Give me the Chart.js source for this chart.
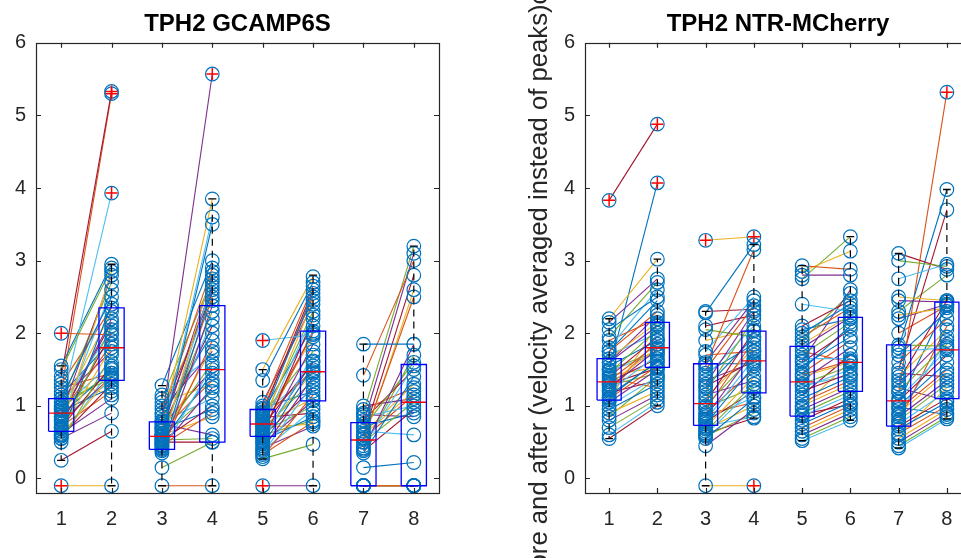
<!DOCTYPE html>
<html>
<head>
<meta charset="utf-8">
<script src="https://cdn.jsdelivr.net/npm/chart.js@4.4.1/dist/chart.umd.min.js"></script>
<style>
  html, body { margin: 0; padding: 0; background: #fff; overflow: hidden; }
  #wrap { position: relative; width: 961px; height: 558px; overflow: hidden; }
  #left { position: absolute; left: 0; top: 0; width: 480px; height: 558px; }
  #right { position: absolute; left: 505px; top: 0; width: 500px; height: 558px; }
</style>
</head>
<body>
<div id="wrap">
  <canvas id="left" width="480" height="558"></canvas>
  <canvas id="right" width="500" height="558"></canvas>
</div>
<script>
const xTicks = [1, 2, 3, 4, 5, 6, 7, 8];
const yTicks = [0, 1, 2, 3, 4, 5, 6];
const matlabColors = ["#0072BD", "#D95319", "#EDB120", "#7E2F8E", "#77AC30", "#4DBEEE", "#A2142F"];

// ---- TPH2 GCAMP6S, paired values (before at odd x, after at even x)
const g12Before = [1.1, 2.0, -0.1, 0.55, 1.5, 1.0, 1.4, 1.55, 1.2, 0.7, 0.9, 1.05, 0.8, 0.25, 0.6, 1.3, 0.95, 0.85, 0.65, 1.0, 0.75, 1.15, 0.9, 0.68, 1.1, 0.5, 0.95, 0.7, 0.88, 1.25, 0.6, 0.78, 1.05, 0.82, 0.58, 0.93, 0.72, 1.35, 0.62, 0.98, 0.55, 0.85];
const g12After = [2.5, 1.98, -0.1, 0.9, 2.9, 3.93, 5.33, 2.95, 5.3, 2.85, 2.8, 2.7, 2.6, 0.65, 2.4, 2.35, 2.3, 2.2, 2.1, 2.05, 2.0, 1.9, 1.85, 1.8, 1.75, 1.7, 1.6, 1.55, 1.5, 1.45, 1.42, 1.4, 1.38, 1.35, 1.3, 1.25, 1.2, 1.15, 1.1, 1.45, 1.52, 2.15];
const g34Before = [0.55, -0.1, 0.7, 0.8, 0.15, 0.6, 0.5, 1.28, 0.9, 0.45, 0.65, 1.1, 0.5, 0.75, 0.4, 0.58, 1.0, 0.35, 0.62, 0.48, 0.7, 0.85, 0.42, 0.55, 0.95, 0.6, 0.38, 0.72, 0.5, 0.66, 1.05, 0.44, 0.58, 0.78, 0.52, 0.68, 0.46, 0.6, 0.75, 0.53, 1.15, 0.9];
const g34After = [3.5, -0.1, 3.85, 5.57, 0.5, 3.6, 0.5, 3.0, 2.9, 2.85, 2.8, 2.75, 2.7, 2.65, 2.6, 2.5, 2.45, 2.38, 2.3, 2.2, 2.1, 2.0, 1.9, 1.8, 1.75, 1.6, 1.55, 1.5, 1.45, 1.35, 1.3, 1.25, 1.2, 1.1, 1.0, 0.95, 0.9, 0.85, 0.6, 0.55, 1.7, 2.55];
const g56Before = [1.35, 1.0, 1.5, -0.1, 0.27, 1.9, 0.9, 0.85, 0.95, 0.75, 1.05, 0.8, 0.7, 0.6, 0.92, 0.65, 0.78, 0.55, 0.88, 0.5, 0.72, 0.45, 0.82, 0.62, 0.4, 0.68, 0.35, 0.58, 0.97, 0.3, 0.74, 0.48, 0.64, 0.38, 0.84, 0.52, 0.33, 0.7, 0.42, 0.6, 0.9, 0.76, 0.56];
const g56After = [2.7, 2.65, 2.78, -0.1, 0.47, 1.98, 2.6, 2.55, 2.5, 2.45, 2.4, 2.3, 2.25, 2.2, 2.1, 2.03, 1.95, 1.85, 1.75, 1.7, 1.6, 1.55, 1.5, 1.47, 1.4, 1.35, 1.3, 1.25, 1.2, 1.15, 1.1, 1.07, 1.0, 0.95, 0.9, 0.85, 0.78, 0.75, 0.72, 0.8, 1.45, 2.0, 1.62];
const g78Before = [-0.1, -0.1, -0.1, -0.1, -0.1, -0.1, 1.85, 1.42, -0.1, 0.75, 0.9, 0.65, 0.6, 0.15, 0.55, 0.5, 0.4, 0.7, 0.45, 0.8, 0.35, 0.95, 0.6, 1.0, 0.5, 0.85, 0.38, 0.72, 0.55, 0.62, 0.88, 0.42];
const g78After = [-0.1, -0.1, -0.1, -0.1, -0.1, -0.1, 1.85, 3.0, -0.1, 3.1, 3.2, 0.6, 2.8, 0.22, 2.5, 2.6, 1.85, 1.6, 1.55, 1.5, 1.4, 1.25, 1.2, 1.1, 1.05, 1.0, 0.95, 0.9, 1.15, 1.3, 0.85, 1.7];

// box statistics
const gQ1 = [0.65, 1.35, 0.40, 0.50, 0.58, 1.07, -0.10, -0.10];
const gMedian = [0.90, 1.80, 0.58, 1.50, 0.75, 1.47, 0.53, 1.05];
const gQ3 = [1.10, 2.35, 0.78, 2.38, 0.95, 2.03, 0.77, 1.57];
const gWhiskerLow = [0.25, -0.10, -0.10, -0.10, 0.27, -0.10, -0.10, -0.10];
const gWhiskerHigh = [1.55, 2.95, 1.28, 3.85, 1.50, 2.80, 1.85, 3.20];
const gOutlierX = [1, 1, 2, 2, 2, 4, 5, 5];
const gOutlierY = [2.0, -0.1, 5.33, 5.30, 3.93, 5.57, 1.9, -0.1];

// ---- TPH2 NTR-MCherry
const n12Before = [2.05, 1.75, 2.2, 2.15, 1.95, 1.8, 3.83, 1.5, 1.9, 1.65, 1.6, 1.45, 1.7, 1.4, 1.55, 1.35, 1.3, 1.25, 1.5, 1.2, 1.33, 1.15, 1.1, 1.42, 1.05, 1.28, 1.0, 1.18, 0.95, 1.38, 0.9, 0.8, 0.7, 0.6, 0.55, 1.12, 1.22, 1.08, 1.6, 0.85, 1.48, 1.3, 1.75];
const n12After = [2.5, 2.3, 3.02, 2.75, 2.7, 2.6, 4.88, 4.07, 2.2, 2.15, 2.1, 2.05, 2.0, 1.95, 1.9, 1.85, 1.8, 1.78, 1.75, 1.7, 1.65, 1.6, 1.55, 1.53, 1.5, 1.45, 1.4, 1.35, 1.3, 1.25, 1.2, 1.15, 1.1, 1.05, 1.0, 1.62, 1.9, 2.12, 2.25, 1.4, 1.72, 1.52, 2.45];
const n34Before = [1.55, -0.1, 1.6, 2.05, 1.75, 2.3, 2.28, 1.5, 3.28, 1.3, 1.2, 1.4, 1.05, 1.25, 0.95, 1.1, 0.85, 1.0, 0.8, 1.27, 0.75, 0.9, 0.7, 1.15, 0.65, 0.6, 0.78, 0.55, 0.88, 0.68, 0.45, 0.58, 0.72, 0.62, 1.58, 1.7, 1.9, 1.35, 0.98, 0.82, 2.1, 1.45];
const n34After = [3.15, -0.1, 2.45, 1.95, 2.5, 2.33, 3.22, 2.38, 3.33, 2.3, 2.2, 2.1, 2.03, 1.95, 1.9, 1.8, 1.75, 1.7, 1.65, 1.62, 1.55, 1.5, 1.4, 1.35, 1.3, 1.25, 1.2, 1.1, 1.05, 1.0, 0.95, 0.9, 0.85, 0.83, 1.58, 1.75, 2.05, 1.6, 1.25, 1.12, 2.25, 1.85];
const n56Before = [2.93, 2.85, 2.8, 2.75, 2.4, 2.1, 2.0, 1.95, 1.85, 1.8, 1.7, 1.65, 1.6, 1.55, 1.45, 1.4, 1.35, 1.3, 1.25, 1.2, 1.1, 1.05, 1.0, 0.95, 0.9, 0.86, 0.8, 0.75, 0.7, 0.65, 0.6, 0.55, 0.52, 1.15, 1.5, 1.75, 0.98, 1.62, 1.9, 1.28, 0.88, 2.05, 1.43];
const n56After = [2.88, 3.13, 2.8, 3.33, 2.3, 2.45, 2.4, 2.35, 2.25, 2.22, 2.15, 1.65, 2.05, 1.95, 1.9, 1.6, 1.8, 1.55, 1.5, 1.45, 1.4, 1.35, 1.3, 1.25, 1.2, 1.15, 1.1, 1.05, 1.0, 0.95, 0.9, 0.85, 0.8, 1.7, 2.1, 1.6, 1.62, 2.6, 2.55, 1.42, 1.02, 2.2, 1.62];
const n78Before = [2.5, 2.45, 3.0, 2.75, 3.1, 1.8, 1.18, 2.25, 2.2, 1.84, 1.75, 1.5, 1.7, 1.6, 1.4, 1.3, 1.2, 1.1, 1.07, 1.0, 0.95, 0.9, 0.85, 0.8, 0.75, 0.72, 0.68, 0.62, 0.55, 0.5, 0.45, 0.42, 1.35, 1.05, 0.78, 0.6, 1.25, 2.3, 0.88, 1.45, 0.98, 2.0];
const n78After = [2.45, 2.43, 2.92, 2.95, 2.88, 3.98, 5.32, 2.35, 2.4, 1.82, 1.8, 3.7, 2.3, 2.2, 2.05, 1.95, 1.85, 1.77, 1.7, 1.6, 1.5, 1.45, 1.35, 1.3, 1.2, 1.1, 1.05, 1.0, 0.95, 0.9, 0.85, 0.82, 2.45, 2.4, 2.1, 1.25, 1.07, 2.8, 1.9, 1.4, 0.88, 2.38];

const nQ1 = [1.08, 1.53, 0.73, 1.18, 0.86, 1.20, 0.72, 1.10];
const nMedian = [1.33, 1.80, 1.03, 1.62, 1.33, 1.60, 1.07, 1.77];
const nQ3 = [1.65, 2.15, 1.58, 2.03, 1.82, 2.22, 1.84, 2.43];
const nWhiskerLow = [0.55, 1.00, -0.10, 0.83, 0.52, 0.80, 0.42, 0.82];
const nWhiskerHigh = [2.20, 3.02, 2.30, 3.22, 2.93, 3.33, 3.10, 3.98];
const nOutlierX = [1, 2, 2, 3, 4, 4, 8];
const nOutlierY = [3.83, 4.88, 4.07, 3.28, 3.33, -0.1, 5.32];

const FONT = "'Liberation Sans', Arial, Helvetica, sans-serif";
const AXIS_COLOR = "#262626";
const BOX_HALF = 0.25;
const CAP_HALF = 0.08;

function seg(points, color, width, order, dash) {
  return {
    data: points, showLine: true, borderColor: color, borderWidth: width,
    borderDash: dash || [], pointRadius: 0, order: order
  };
}

function buildDatasets(pairs, q1, med, q3, lo, hi, outX, outY) {
  const sets = [];
  const circles = [];
  let k = 0; // MATLAB colour order keeps cycling through the whole axes
  pairs.forEach(([x0, before, after]) => {
    before.forEach((b, i) => {
      const a = after[i];
      sets.push(seg([{ x: x0, y: b }, { x: x0 + 1, y: a }], matlabColors[k % 7], 1.1, 4));
      circles.push({ x: x0, y: b }, { x: x0 + 1, y: a });
      k++;
    });
  });
  sets.push({
    data: circles, showLine: false, pointStyle: "circle", pointRadius: 6.8,
    borderColor: "#0072BD", backgroundColor: "rgba(0,0,0,0)", borderWidth: 1.2, order: 3
  });
  xTicks.forEach((p, i) => {
    sets.push(seg([
      { x: p - BOX_HALF, y: q1[i] }, { x: p + BOX_HALF, y: q1[i] },
      { x: p + BOX_HALF, y: q3[i] }, { x: p - BOX_HALF, y: q3[i] },
      { x: p - BOX_HALF, y: q1[i] }
    ], "#0000FF", 1.3, 2));
    sets.push(seg([{ x: p - BOX_HALF, y: med[i] }, { x: p + BOX_HALF, y: med[i] }], "#FF0000", 1.3, 2));
    sets.push(seg([{ x: p, y: q3[i] }, { x: p, y: hi[i] }], "#000000", 1.2, 2, [7, 5]));
    sets.push(seg([{ x: p, y: q1[i] }, { x: p, y: lo[i] }], "#000000", 1.2, 2, [7, 5]));
    sets.push(seg([{ x: p - CAP_HALF, y: hi[i] }, { x: p + CAP_HALF, y: hi[i] }], "#000000", 1.3, 2));
    sets.push(seg([{ x: p - CAP_HALF, y: lo[i] }, { x: p + CAP_HALF, y: lo[i] }], "#000000", 1.3, 2));
  });
  sets.push({
    data: outX.map((x, i) => ({ x: x, y: outY[i] })), showLine: false,
    pointStyle: "cross", pointRadius: 6, borderColor: "#FF0000", borderWidth: 1.5, order: 1
  });
  return sets;
}

// MATLAB-like box with inward ticks on all sides
const matlabAxes = {
  id: "matlabAxes",
  afterDraw(chart) {
    const { ctx, chartArea: a, scales: { x, y } } = chart;
    ctx.save();
    ctx.strokeStyle = AXIS_COLOR;
    ctx.lineWidth = 1.2;
    ctx.beginPath();
    x.ticks.forEach(t => {
      const px = Math.round(x.getPixelForValue(t.value)) + 0.5;
      ctx.moveTo(px, a.bottom); ctx.lineTo(px, a.bottom - 5);
      ctx.moveTo(px, a.top); ctx.lineTo(px, a.top + 5);
    });
    y.ticks.forEach(t => {
      const py = Math.round(y.getPixelForValue(t.value)) + 0.5;
      ctx.moveTo(a.left, py); ctx.lineTo(a.left + 5, py);
      ctx.moveTo(a.right, py); ctx.lineTo(a.right - 5, py);
    });
    ctx.stroke();
    ctx.strokeRect(Math.round(a.left) + 0.5, Math.round(a.top) + 0.5, Math.round(a.width), Math.round(a.height));
    ctx.restore();
  }
};

function makeChart(id, title, datasets, yWidth, padRight, yTitle) {
  return new Chart(document.getElementById(id), {
    type: "scatter",
    data: { datasets: datasets },
    options: {
      responsive: false,
      animation: false,
      events: [],
      layout: { padding: { left: 0, right: padRight, top: 0, bottom: 0 } },
      plugins: {
        legend: { display: false },
        tooltip: { enabled: false },
        title: {
          display: true, text: title, fullSize: false, color: "#000",
          font: { family: FONT, size: 24, weight: "bold" },
          padding: { top: 10, bottom: 4 }
        }
      },
      scales: {
        x: {
          type: "linear", min: 0.5, max: 8.5,
          afterBuildTicks: s => { s.ticks = xTicks.map(v => ({ value: v })); },
          afterFit: s => { s.height = 65; },
          grid: { display: false, drawTicks: false },
          border: { display: false },
          ticks: { color: AXIS_COLOR, font: { family: FONT, size: 20 }, padding: 14 }
        },
        y: {
          type: "linear", min: -0.2, max: 6,
          afterBuildTicks: s => { s.ticks = yTicks.map(v => ({ value: v })); },
          afterFit: s => { s.width = yWidth; },
          grid: { display: false, drawTicks: false },
          border: { display: false },
          ticks: { color: AXIS_COLOR, font: { family: FONT, size: 20 }, padding: 10 },
          title: yTitle ? {
            display: true, text: yTitle, color: AXIS_COLOR,
            font: { family: FONT, size: 25.7 }, padding: { top: 19, bottom: 0 }
          } : { display: false }
        }
      }
    },
    plugins: [matlabAxes]
  });
}

makeChart("left", "TPH2 GCAMP6S",
  buildDatasets([[1, g12Before, g12After], [3, g34Before, g34After], [5, g56Before, g56After], [7, g78Before, g78After]],
    gQ1, gMedian, gQ3, gWhiskerLow, gWhiskerHigh, gOutlierX, gOutlierY),
  36, 41, null);

makeChart("right", "TPH2 NTR-MCherry",
  buildDatasets([[1, n12Before, n12After], [3, n34Before, n34After], [5, n56Before, n56After], [7, n78Before, n78After]],
    nQ1, nMedian, nQ3, nWhiskerLow, nWhiskerHigh, nOutlierX, nOutlierY),
  80, 34, "Ratio before and after (velocity averaged instead of peaks)of every trial");
</script>
</body>
</html>
